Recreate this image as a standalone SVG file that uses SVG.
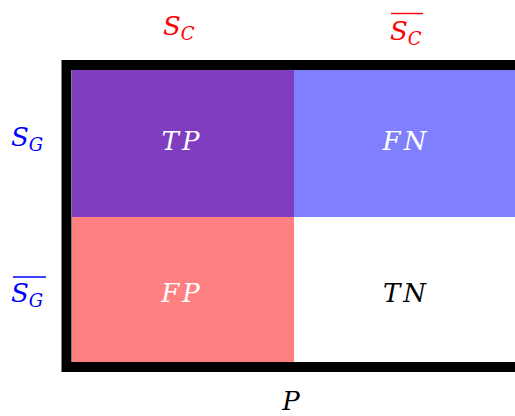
<svg xmlns="http://www.w3.org/2000/svg" width="515" height="416" viewBox="0 0 515 416">
<style>
text{font-family:"DejaVu Serif",serif;font-style:italic}
.m{font-size:26px;text-anchor:middle}
.cell{letter-spacing:3px}
.lab{font-size:26px}
.sub{font-size:18px}
.r{fill:#ff0000}.b{fill:#0000ff}.w{fill:#ffffff}.k{fill:#000000}
</style>
<rect width="515" height="416" fill="#ffffff"/>
<g id="cells">
<g id="tp"><rect x="72" y="70" width="222" height="147" fill="#803dbf"/><text class="m cell w" x="182" y="150">TP</text></g>
<g id="fn"><rect x="294" y="70" width="226" height="147" fill="#8080ff"/><text class="m cell w" x="406" y="150">FN</text></g>
<g id="fp"><rect x="72" y="217" width="222" height="145" fill="#ff8080"/><text class="m cell w" x="182" y="302">FP</text></g>
<g id="tn"><rect x="294" y="217" width="226" height="145" fill="#ffffff"/><text class="m cell k" x="406" y="302">TN</text></g>
</g>
<g id="frame"><rect x="66.5" y="65" width="460" height="302" fill="none" stroke="#000" stroke-width="10"/></g>
<g id="labels">
<g id="sc"><text class="lab r" x="163" y="35">S<tspan class="sub" dy="5">C</tspan></text></g>
<g id="scbar"><text class="lab r" x="390" y="40">S<tspan class="sub" dy="5">C</tspan></text><line x1="391" y1="13.5" x2="423" y2="13.5" stroke="#ff0000" stroke-width="1.4"/></g>
<g id="sg"><text class="lab b" x="11" y="146">S<tspan class="sub" dy="5">G</tspan></text></g>
<g id="sgbar"><text class="lab b" x="11" y="302">S<tspan class="sub" dy="5">G</tspan></text><line x1="13" y1="277" x2="46" y2="277" stroke="#0000ff" stroke-width="1.4"/></g>
<g id="p"><text class="m k" x="291" y="410">P</text></g>
</g>
</svg>
